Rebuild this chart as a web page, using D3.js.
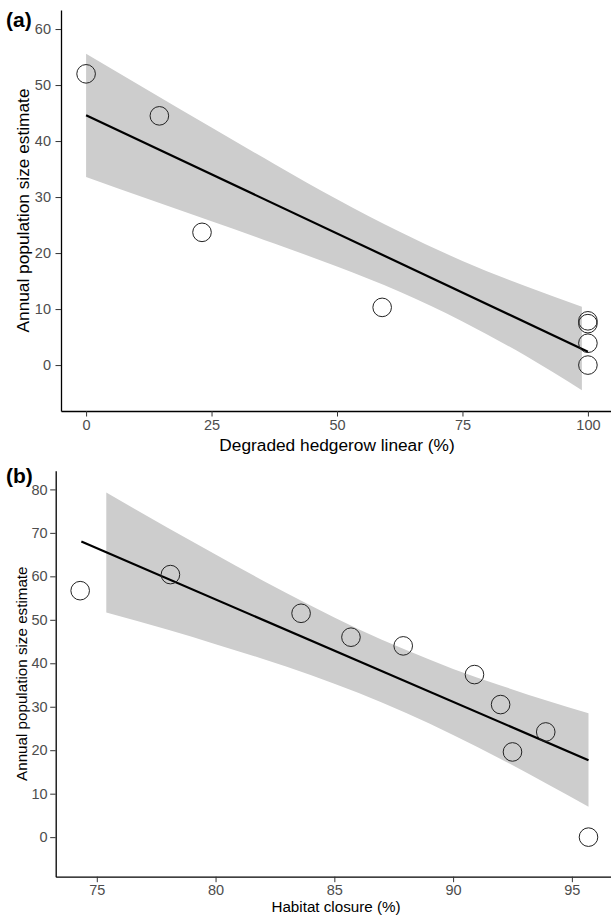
<!DOCTYPE html>
<html lang="en">
<head>
    <meta charset="UTF-8">
    <title>Population size vs hedgerow and habitat closure</title>
    <script src="https://d3js.org/d3.v7.min.js"></script>
    <style>
        body {
            margin: 0;
            background: #fff;
            font-family: "Liberation Sans", Arial, sans-serif;
        }
        .tick text {
            fill: #4d4d4d;
        }
        .tick line {
            stroke: #333;
        }
        .domain {
            stroke: #000;
        }
    </style>
</head>
<body>
    <div id="chart"></div>

    <script>
        // panel (a) - degraded hedgerow
        const hedgerowX = [0, 14.6, 23.1, 59.0, 100, 100, 100, 100];
        const hedgerowY = [52.0, 44.5, 23.7, 10.3, 7.9, 7.4, 3.9, 0.0];
        const hedgerowFitX = [0, 100];
        const hedgerowFitY = [44.6, 2.4];
        const hedgerowBandX = [0, 12.5, 25, 37.5, 50, 62.5, 75, 87.5, 98.8];
        const hedgerowBandLow = [33.6, 29.6, 25.7, 21.7, 17.6, 13.1, 7.8, 1.7, -4.5];
        const hedgerowBandHigh = [55.6, 49.0, 42.4, 35.9, 29.6, 23.8, 18.6, 14.1, 10.4];
        const hedgerowTicksX = [0, 25, 50, 75, 100];
        const hedgerowTicksY = [0, 10, 20, 30, 40, 50, 60];

        // panel (b) - habitat closure
        const closureX = [74.3, 78.1, 83.6, 85.7, 87.9, 90.9, 92.0, 92.5, 93.9, 95.7];
        const closureY = [56.7, 60.4, 51.5, 46.0, 44.0, 37.4, 30.5, 19.6, 24.2, 0.0];
        const closureFitX = [74.35, 95.7];
        const closureFitY = [68.0, 17.7];
        const closureBandX = [75.4, 78, 80, 82, 84, 86, 88, 90, 92, 94, 95.7];
        const closureBandLow = [51.7, 47.7, 44.4, 41.0, 37.3, 33.2, 28.6, 23.5, 18.0, 12.1, 7.0];
        const closureBandHigh = [79.3, 71.1, 65.0, 59.0, 53.3, 47.9, 43.1, 38.7, 34.9, 31.3, 28.5];
        const closureTicksX = [75, 80, 85, 90, 95];
        const closureTicksY = [0, 10, 20, 30, 40, 50, 60, 70, 80];

        const yTitle = 'Annual population size estimate';

        const svg = d3.select('#chart')
            .append('svg')
            .attr('width', 611)
            .attr('height', 916);

        function drawPanel(p) {
            const g = svg.append('g');
            const x = d3.scaleLinear().domain(p.xDomain).range(p.xRange);
            const y = d3.scaleLinear().domain(p.yDomain).range(p.yRange);

            // confidence band
            const band = p.bandX.map((v, i) => ({ x: v, lo: p.bandLow[i], hi: p.bandHigh[i] }));
            g.append('path')
                .datum(band)
                .attr('fill', '#cdcdcd')
                .attr('d', d3.area()
                    .curve(d3.curveMonotoneX)
                    .x(d => x(d.x))
                    .y0(d => y(d.lo))
                    .y1(d => y(d.hi)));

            // fitted line
            const fit = p.fitX.map((v, i) => ({ x: v, y: p.fitY[i] }));
            g.append('path')
                .datum(fit)
                .attr('fill', 'none')
                .attr('stroke', '#000')
                .attr('stroke-width', 2.2)
                .attr('d', d3.line().x(d => x(d.x)).y(d => y(d.y)));

            // observed points
            g.selectAll('.dot')
                .data(p.px.map((v, i) => ({ x: v, y: p.py[i] })))
                .enter()
                .append('circle')
                .attr('class', 'dot')
                .attr('cx', d => x(d.x))
                .attr('cy', d => y(d.y))
                .attr('r', 9.3)
                .attr('fill', 'none')
                .attr('stroke', '#222')
                .attr('stroke-width', 1);

            // axes
            g.append('g')
                .attr('transform', `translate(0, ${p.yRange[0]})`)
                .call(d3.axisBottom(x).tickValues(p.ticksX).tickSize(5.5).tickSizeOuter(0).tickPadding(3))
                .call(a => a.select('.domain').attr('stroke-width', 1.3))
                .selectAll('text')
                .style('font-size', '14.5px')
                .style('font-family', '"Liberation Sans", Arial, sans-serif');

            g.append('g')
                .attr('transform', `translate(${p.xRange[0]}, 0)`)
                .call(d3.axisLeft(y).tickValues(p.ticksY).tickSize(5.5).tickSizeOuter(0).tickPadding(p.yPad))
                .call(a => a.select('.domain').attr('stroke-width', 1.3))
                .selectAll('text')
                .style('font-size', '14.5px')
                .style('font-family', '"Liberation Sans", Arial, sans-serif');

            // titles
            g.append('text')
                .attr('x', p.xTitlePos[0])
                .attr('y', p.xTitlePos[1])
                .attr('text-anchor', 'middle')
                .style('font-size', p.titleSize + 'px')
                .text(p.xTitle);

            g.append('text')
                .attr('transform', 'rotate(-90)')
                .attr('x', -(p.yRange[0] + p.yRange[1]) / 2)
                .attr('y', p.yTitleX)
                .attr('text-anchor', 'middle')
                .style('font-size', p.titleSize + 'px')
                .text(yTitle);

            g.append('text')
                .attr('x', 6)
                .attr('y', p.tagY)
                .style('font-size', '21px')
                .style('font-weight', 'bold')
                .text(p.tag);
        }

        drawPanel({
            px: hedgerowX, py: hedgerowY,
            fitX: hedgerowFitX, fitY: hedgerowFitY,
            bandX: hedgerowBandX, bandLow: hedgerowBandLow, bandHigh: hedgerowBandHigh,
            ticksX: hedgerowTicksX, ticksY: hedgerowTicksY,
            xDomain: [-5, 105], xRange: [61, 613],
            yDomain: [-8.2, 63.4], yRange: [411, 10],
            yPad: 4.5,
            xTitle: 'Degraded hedgerow linear (%)', xTitlePos: [337, 451],
            yTitleX: 29, titleSize: 17.3,
            tag: '(a)', tagY: 27
        });

        drawPanel({
            px: closureX, py: closureY,
            fitX: closureFitX, fitY: closureFitY,
            bandX: closureBandX, bandLow: closureBandLow, bandHigh: closureBandHigh,
            ticksX: closureTicksX, ticksY: closureTicksY,
            xDomain: [73.27, 96.9], xRange: [55.7, 617],
            yDomain: [-9.1, 84.3], yRange: [876.7, 470.7],
            yPad: 2.5,
            xTitle: 'Habitat closure (%)', xTitlePos: [336, 912],
            yTitleX: 27, titleSize: 15.2,
            tag: '(b)', tagY: 483
        });
    </script>
</body>
</html>
